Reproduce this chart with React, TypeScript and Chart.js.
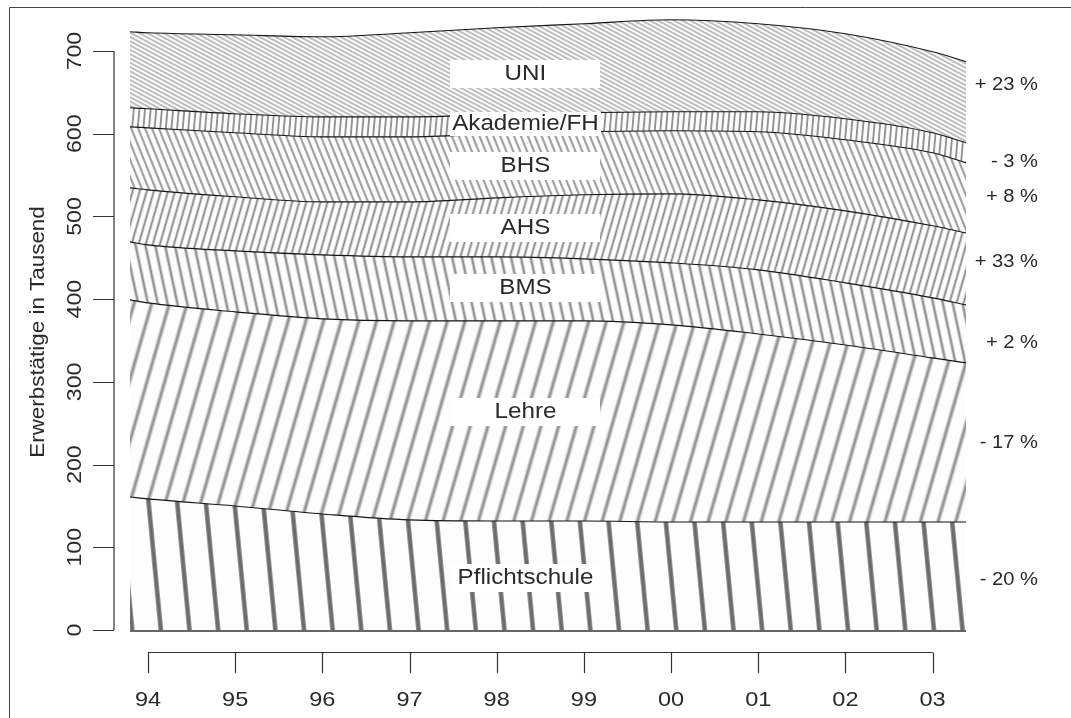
import React, { useEffect, useRef } from "react";
import { Chart, registerables } from "chart.js";

Chart.register(...registerables);

// ---- data (x in years since 1994; boundaries) ----
const xPositions = [-0.206, 0, 1, 2, 3, 4, 5, 6, 7, 8, 9, 9.383];
const yearLabels = ["94", "95", "96", "97", "98", "99", "00", "01", "02", "03"];
const yTicks = [0, 100, 200, 300, 400, 500, 600, 700];

const pflichtschule = [160.9, 158.5, 150.0, 140.3, 133.1, 131.8, 131.8, 130.6, 130.6, 130.6, 130.6, 130.6];
const lehre = [238.3, 237.0, 234.7, 235.9, 240.7, 242.0, 242.0, 238.3, 227.4, 214.1, 198.4, 192.4];
const bms = [70.1, 70.2, 73.7, 77.4, 77.4, 77.4, 75.0, 75.0, 77.5, 75.0, 72.6, 70.1];
const ahs = [65.3, 66.5, 65.4, 64.1, 66.5, 71.3, 77.4, 83.5, 84.6, 87.1, 87.1, 87.1];
const bhs = [73.8, 75.0, 77.4, 78.6, 78.6, 77.5, 76.2, 76.2, 82.3, 85.9, 88.3, 84.7];
const akademie = [23.0, 23.0, 23.0, 24.2, 24.2, 22.9, 23.0, 23.0, 24.2, 25.4, 24.2, 24.2];
const uni = [91.9, 91.9, 95.5, 96.8, 101.6, 105.3, 107.6, 111.3, 106.4, 102.8, 97.9, 98.0];

const layerNames = ["Pflichtschule", "Lehre", "BMS", "AHS", "BHS", "Akademie/FH", "UNI"];
const layerValues = [pflichtschule, lehre, bms, ahs, bhs, akademie, uni];
const changeLabels = ["- 20 %", "- 17 %", "+ 2 %", "+ 33 %", "+ 8 %", "- 3 %", "+ 23 %"];

// label anchors in data units
const labelX = 4.33;
const labelY = [63, 264, 414, 486, 561, 612, 672];
const changeY = [60.5, 226, 347, 445, 524, 566, 659];

// hatch styles: period, angle (deg), line width, softness, gray level
const hatchStyles = [
  { period: 28.5, angle: -5.5, width: 4.4, soft: 0.7, gray: 108 },
  { period: 17, angle: 16, width: 2.6, soft: 3.0, gray: 118 },
  { period: 9.6, angle: -12, width: 2.2, soft: 1.8, gray: 128 },
  { period: 6.8, angle: 16, width: 1.8, soft: 1.2, gray: 128 },
  { period: 6.4, angle: -22, width: 1.5, soft: 0.8, gray: 122 },
  { period: 5.6, angle: 5, width: 1.5, soft: 0.7, gray: 118 },
  { period: 3.8, angle: -62, width: 1.1, soft: 0.6, gray: 140 },
];

const FONT = '"Liberation Sans", Arial, Helvetica, sans-serif';
const TEXT = "#2a2a2a";

function makeHatch(ctx: CanvasRenderingContext2D, s: any) {
  const N = Math.max(2, Math.round(s.period));
  const tile = document.createElement("canvas");
  tile.width = N;
  tile.height = 1;
  const tctx = tile.getContext("2d")!;
  const img = tctx.createImageData(N, 1);
  const bg = 253;
  for (let i = 0; i < N; i++) {
    let cov = 0;
    for (let k = 0; k < 16; k++) {
      const u = ((i + (k + 0.5) / 16) * s.period) / N;
      const d = Math.abs(u - s.period / 2);
      const half = s.width / 2;
      const f = Math.min(1, Math.max(0, (half + s.soft / 2 - d) / s.soft));
      cov += f;
    }
    cov /= 16;
    const v = Math.round(bg * (1 - cov) + s.gray * cov);
    img.data[i * 4] = v;
    img.data[i * 4 + 1] = v;
    img.data[i * 4 + 2] = v;
    img.data[i * 4 + 3] = 255;
  }
  tctx.putImageData(img, 0, 0);
  const pat = ctx.createPattern(tile, "repeat")!;
  pat.setTransform(new DOMMatrix().rotateSelf(s.angle).scaleSelf(s.period / N, 1));
  return pat;
}

function drawText(
  ctx: CanvasRenderingContext2D,
  text: string,
  x: number,
  y: number,
  size: number,
  sx: number,
  align: CanvasTextAlign,
  rotate = false
) {
  ctx.save();
  ctx.translate(x, y);
  if (rotate) ctx.rotate(-Math.PI / 2);
  ctx.scale(sx, 1);
  ctx.font = `${size}px ${FONT}`;
  ctx.fillStyle = TEXT;
  ctx.textAlign = align;
  ctx.textBaseline = "middle";
  ctx.fillText(text, 0, 0);
  ctx.restore();
}

const decorPlugin = {
  id: "decor",
  afterDatasetsDraw(chart: any) {
    const ctx: CanvasRenderingContext2D = chart.ctx;
    const xs = chart.scales.x;
    const ys = chart.scales.y;
    const area = chart.chartArea;
    ctx.save();

    // frame (left and top)
    ctx.strokeStyle = "#444";
    ctx.lineWidth = 1;
    ctx.beginPath();
    ctx.moveTo(9.5, 718);
    ctx.lineTo(9.5, 7.5);
    ctx.lineTo(1071, 7.5);
    ctx.stroke();

    // baseline of the areas
    ctx.strokeStyle = "#333";
    ctx.lineWidth = 1.3;
    const y0 = ys.getPixelForValue(0);
    ctx.beginPath();
    ctx.moveTo(area.left, y0 + 1);
    ctx.lineTo(area.right, y0 + 1);
    ctx.stroke();

    // y axis
    const yAxisX = 114;
    ctx.strokeStyle = "#333";
    ctx.lineWidth = 1.2;
    ctx.beginPath();
    ctx.moveTo(yAxisX, ys.getPixelForValue(yTicks[0]));
    ctx.lineTo(yAxisX, ys.getPixelForValue(yTicks[yTicks.length - 1]));
    for (const t of yTicks) {
      const py = Math.round(ys.getPixelForValue(t)) + 0.5;
      ctx.moveTo(93, py);
      ctx.lineTo(yAxisX, py);
    }
    ctx.stroke();
    for (const t of yTicks) {
      drawText(ctx, String(t), 75, ys.getPixelForValue(t), 21, 1.1, "center", true);
    }
    drawText(ctx, "Erwerbstätige in Tausend", 38, 332, 20, 1.12, "center", true);

    // x axis
    const xAxisY = 652.5;
    ctx.beginPath();
    ctx.moveTo(xs.getPixelForValue(0), xAxisY);
    ctx.lineTo(xs.getPixelForValue(yearLabels.length - 1), xAxisY);
    yearLabels.forEach((_, i) => {
      const px = Math.round(xs.getPixelForValue(i)) + 0.5;
      ctx.moveTo(px, xAxisY);
      ctx.lineTo(px, 673);
    });
    ctx.stroke();
    yearLabels.forEach((lab, i) => {
      drawText(ctx, lab, xs.getPixelForValue(i), 700, 21, 1.12, "center");
    });

    // layer labels with white boxes
    const lx = xs.getPixelForValue(labelX);
    layerNames.forEach((name, i) => {
      const ly = ys.getPixelForValue(labelY[i]);
      ctx.font = `22px ${FONT}`;
      const w = Math.max(150, ctx.measureText(name).width * 1.1 + 4);
      const h = name === "Akademie/FH" ? 24 : 28;
      ctx.fillStyle = "#ffffff";
      ctx.fillRect(Math.round(lx - w / 2), Math.round(ly - h / 2), Math.round(w), h);
      drawText(ctx, name, lx, ly, 22, 1.1, "center");
    });

    // change labels
    changeLabels.forEach((lab, i) => {
      drawText(ctx, lab, 1038, ys.getPixelForValue(changeY[i]), 18, 1.12, "right");
    });

    ctx.restore();
  },
};

export default function App() {
  const canvasRef = useRef<HTMLCanvasElement | null>(null);

  useEffect(() => {
    const canvas = canvasRef.current!;
    const ctx = canvas.getContext("2d")!;
    const patterns = hatchStyles.map((s) => makeHatch(ctx, s));

    const datasets = layerValues.map((vals, i) => ({
      label: layerNames[i],
      data: vals.map((v, j) => ({ x: xPositions[j], y: v })),
      backgroundColor: patterns[i],
      borderColor: "#151515",
      borderWidth: 1.1,
      pointRadius: 0,
      pointHoverRadius: 0,
      fill: i === 0 ? "origin" : "-1",
      cubicInterpolationMode: "monotone" as const,
    }));

    const chart = new Chart(ctx, {
      type: "line",
      data: { datasets },
      options: {
        responsive: false,
        animation: false,
        events: [],
        layout: { padding: { left: 130, right: 105, top: 18, bottom: 88 } },
        scales: {
          x: { type: "linear", min: xPositions[0], max: xPositions[xPositions.length - 1], display: false },
          y: { type: "linear", stacked: true, min: 0, max: 740, display: false },
        },
        plugins: {
          legend: { display: false },
          tooltip: { enabled: false },
        },
      },
      plugins: [decorPlugin],
    });
    return () => chart.destroy();
  }, []);

  return (
    <div style={{ position: "absolute", left: 0, top: 0, width: 1071, height: 718, background: "#fff" }}>
      <canvas ref={canvasRef} width={1071} height={718} style={{ display: "block" }} />
    </div>
  );
}
